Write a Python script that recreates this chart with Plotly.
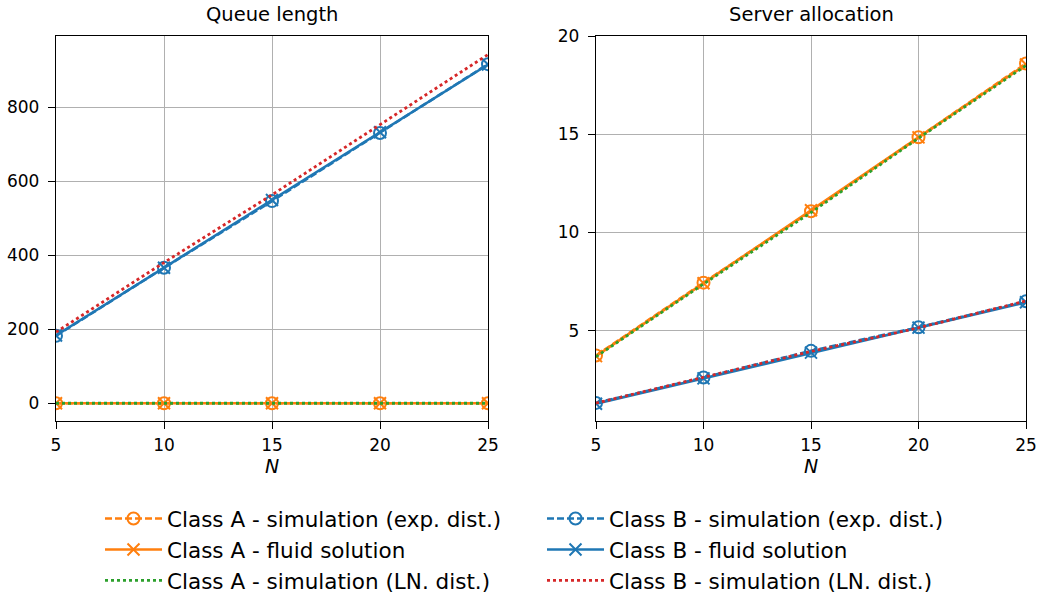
import plotly.graph_objects as go

N = [5, 10, 15, 20, 25]

# Queue length
q_A_exp = [0.0, 0.0, 0.0, 0.0, 0.0]
q_A_fluid = [0.0, 0.0, 0.0, 0.0, 0.0]
q_A_ln = [0.0, 0.0, 0.0, 0.0, 0.0]
q_B_exp = [182, 366, 546, 730, 916]
q_B_fluid = [183, 366, 549, 732, 915]
q_B_ln = [192, 380, 563, 752, 942]

# Server allocation
s_A_exp = [3.74, 7.45, 11.08, 14.85, 18.6]
s_A_fluid = [3.71, 7.42, 11.13, 14.84, 18.55]
s_A_ln = [3.68, 7.38, 11.02, 14.8, 18.5]
s_B_exp = [1.33, 2.62, 3.98, 5.18, 6.5]
s_B_fluid = [1.29, 2.58, 3.89, 5.16, 6.45]
s_B_ln = [1.32, 2.64, 3.95, 5.15, 6.52]

ORANGE = "#ff7f0e"
BLUE = "#1f77b4"
GREEN = "#2ca02c"
RED = "#d62728"
FONT = "DejaVu Sans"
LW = 2.6

series = [
    # name, color, dash, marker, legend, qdata, sdata
    ("Class A - simulation (exp. dist.)", ORANGE, "dash", "circle-open", "legend", q_A_exp, s_A_exp),
    ("Class A - fluid solution", ORANGE, "solid", "x-thin-open", "legend", q_A_fluid, s_A_fluid),
    ("Class A - simulation (LN. dist.)", GREEN, "dot", None, "legend", q_A_ln, s_A_ln),
    ("Class B - simulation (exp. dist.)", BLUE, "dash", "circle-open", "legend2", q_B_exp, s_B_exp),
    ("Class B - fluid solution", BLUE, "solid", "x-thin-open", "legend2", q_B_fluid, s_B_fluid),
    ("Class B - simulation (LN. dist.)", RED, "dot", None, "legend2", q_B_ln, s_B_ln),
]

fig = go.Figure()
for i, (name, color, dash, sym, leg, qd, sd) in enumerate(series):
    for k, (xa, ya, data) in enumerate([("x", "y", qd), ("x2", "y2", sd)]):
        kw = dict(
            x=N, y=data, name=name, xaxis=xa, yaxis=ya,
            legend=leg, legendgroup=name, showlegend=(k == 0),
            line=dict(color=color, width=LW if dash != "dot" else 2.8,
                      dash=dash if dash != "dash" else "7px,3px"),
        )
        if sym:
            kw["mode"] = "lines+markers"
            kw["marker"] = dict(symbol=sym, size=12, color=color,
                                line=dict(color=color, width=2))
        else:
            kw["mode"] = "lines"
        fig.add_trace(go.Scatter(**kw))

W, H = 1039, 594
def px_x(p):
    return p / W
def px_y(p):
    return 1 - p / H

axis_common = dict(
    showgrid=True, gridcolor="#b0b0b0", gridwidth=1.2,
    showline=True, linecolor="black", linewidth=1.4, mirror=True,
    ticks="outside", ticklen=7, tickwidth=1.3, tickcolor="black",
    tickfont=dict(family=FONT, size=17, color="black"),
    zeroline=False, automargin=False,
)

fig.update_layout(
    width=W, height=H,
    margin=dict(l=0, r=0, t=0, b=0, autoexpand=False),
    paper_bgcolor="white", plot_bgcolor="white",
    font=dict(family=FONT, color="black"),
    xaxis=dict(domain=[px_x(56), px_x(488)], range=[5, 25], tickvals=[5, 10, 15, 20, 25],
               ticklabelstandoff=1,
               title=dict(text="<i>N</i>", font=dict(size=19, family=FONT), standoff=4), anchor="y", **axis_common),
    yaxis=dict(domain=[px_y(421), px_y(36)], range=[-48, 992], tickvals=[0, 200, 400, 600, 800],
               ticklabelstandoff=5, anchor="x", **axis_common),
    xaxis2=dict(domain=[px_x(596), px_x(1026)], range=[5, 25], tickvals=[5, 10, 15, 20, 25],
                ticklabelstandoff=1,
                title=dict(text="<i>N</i>", font=dict(size=19, family=FONT), standoff=4), anchor="y2", **axis_common),
    yaxis2=dict(domain=[px_y(421), px_y(36)], range=[0.41, 20], tickvals=[5, 10, 15, 20],
                ticklabelstandoff=5, anchor="x2", **axis_common),
    legend=dict(x=px_x(100), y=px_y(498), xanchor="left", yanchor="top",
                font=dict(family=FONT, size=21.5, color="black"),
                tracegroupgap=0, itemwidth=57, bgcolor="rgba(0,0,0,0)"),
    legend2=dict(x=px_x(542), y=px_y(498), xanchor="left", yanchor="top",
                 font=dict(family=FONT, size=21.5, color="black"),
                 tracegroupgap=0, itemwidth=57, bgcolor="rgba(0,0,0,0)"),
    annotations=[
        dict(text="Queue length", x=(px_x(56) + px_x(488)) / 2, y=px_y(14), xref="paper", yref="paper",
             showarrow=False, font=dict(family=FONT, size=19.5, color="black"),
             xanchor="center", yanchor="middle"),
        dict(text="Server allocation", x=(px_x(596) + px_x(1026)) / 2, y=px_y(14), xref="paper", yref="paper",
             showarrow=False, font=dict(family=FONT, size=19.5, color="black"),
             xanchor="center", yanchor="middle"),
    ],
)

fig.write_html("out.html")
